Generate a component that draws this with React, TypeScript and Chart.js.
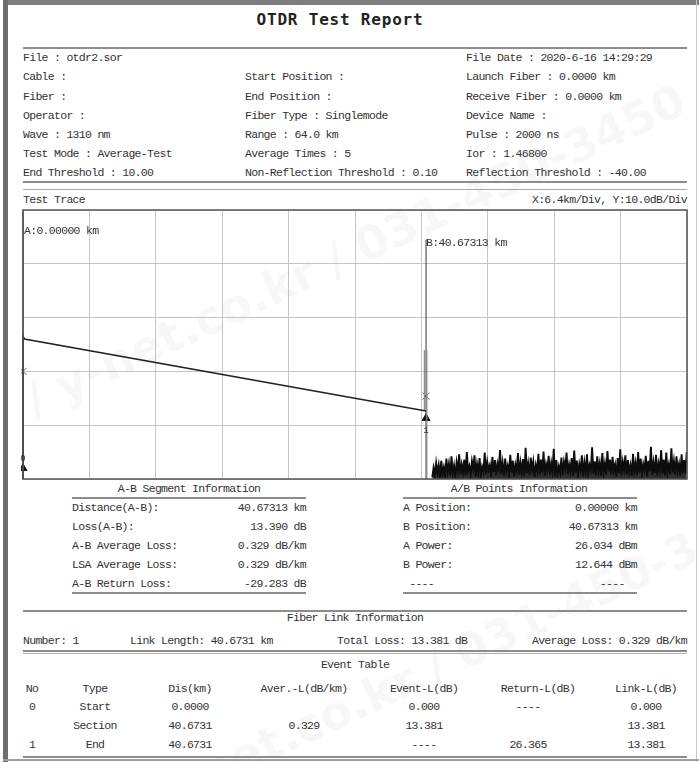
import React, { useEffect, useRef } from "react";
import { Chart, registerables } from "chart.js";
Chart.register(...registerables);

// ---------- report text ----------
const TITLE = "OTDR Test Report";
const HEADER_LEFT = ["File : otdr2.sor", "Cable :", "Fiber :", "Operator :", "Wave : 1310 nm", "Test Mode : Average-Test", "End Threshold : 10.00"];
const HEADER_MID = ["", "Start Position :", "End Position :", "Fiber Type : Singlemode", "Range : 64.0 km", "Average Times : 5", "Non-Reflection Threshold : 0.10"];
const HEADER_RIGHT = ["File Date : 2020-6-16 14:29:29", "Launch Fiber : 0.0000 km", "Receive Fiber : 0.0000 km", "Device Name :", "Pulse : 2000 ns", "Ior : 1.46800", "Reflection Threshold : -40.00"];
const TRACE_TITLE = "Test Trace";
const SCALE_TEXT = "X:6.4km/Div, Y:10.0dB/Div";
const A_LABEL = "A:0.00000 km";
const B_LABEL = "B:40.67313 km";

const SEG_TITLE = "A-B Segment Information";
const SEG_LABELS = ["Distance(A-B):", "Loss(A-B):", "A-B Average Loss:", "LSA Average Loss:", "A-B Return Loss:"];
const SEG_VALUES = ["40.67313 km", "13.390 dB", "0.329 dB/km", "0.329 dB/km", "-29.283 dB"];
const PTS_TITLE = "A/B Points Information";
const PTS_LABELS = ["A Position:", "B Position:", "A Power:", "B Power:", " ----"];
const PTS_VALUES = ["0.00000 km", "40.67313 km", "26.034 dBm", "12.644 dBm", "----  "];

const LINK_TITLE = "Fiber Link Information";
const LINK_ITEMS = ["Number: 1", "Link Length: 40.6731 km", "Total Loss: 13.381 dB", "Average Loss: 0.329 dB/km"];
const EVENT_TITLE = "Event Table";
const EVENT_HEAD = ["No", "Type", "Dis(km)", "Aver.-L(dB/km)", "Event-L(dB)", "Return-L(dB)", "Link-L(dB)"];
const EVENT_NO = ["0", "", "1"];
const EVENT_TYPE = ["Start", "Section", "End"];
const EVENT_DIS = ["0.0000", "40.6731", "40.6731"];
const EVENT_AVER = ["", "0.329", ""];
const EVENT_EVL = ["0.000", "13.381", "----"];
const EVENT_RETL = ["----", "", "26.365"];
const EVENT_LINKL = ["0.000", "13.381", "13.381"];

// ---------- trace data ----------
const X_GRID = [0, 6.7, 13.4, 20.1, 26.8, 33.5, 40.2, 46.9, 53.6, 60.3, 67];
const Y_GRID = [0, 10, 20, 30, 40, 50];
const TRACE_KM = [0, 0, 0.15, 40.67];
const TRACE_DB = [0, 26.5, 26.03, 12.64];
const SPIKE_KM = [40.5, 40.5, 40.75, 40.75];
const SPIKE_DB = [12.7, 23.8, 23.8, 0];
const A_KM = 0;
const B_KM = 40.67;
const CURSOR_TOP_DB = [50, 44.5];
const EVENT_KM = [0, 40.67];
const EVENT_CROSS_DB = [20.0, 15.4];
const EVENT_TRI_DB = [2.0, 11.3];
const EVENT_IDS = ["0", "1"];
const NOISE_START_KM = 41.3;
const NOISE_STEP_KM = 0.129;
const NOISE_DB = [
  0.3, 2.1, 0.8, 3.0, 1.2, 2.6, 0.2, 3.4, 1.0, 2.2,
  0.5, 3.8, 1.4, 2.9, 0.6, 4.2, 1.1, 2.5, 0.4, 3.1,
  1.6, 4.6, 0.9, 2.7, 1.3, 3.6, 0.7, 5.0, 1.5, 2.4,
  0.8, 3.3, 1.9, 4.4, 0.5, 2.8, 1.2, 3.9, 0.6, 2.3,
  1.4, 4.9, 0.9, 3.2, 1.7, 2.6, 0.4, 4.1, 1.3, 3.5,
  0.7, 2.9, 1.8, 5.4, 1.0, 3.0, 0.6, 3.8, 1.5, 2.5,
  0.9, 4.5, 1.2, 3.4, 0.5, 2.7, 1.6, 4.8, 0.8, 3.1,
  1.3, 3.7, 0.6, 5.8, 1.1, 2.9, 0.7, 4.0, 1.8, 3.3,
  0.4, 2.6, 1.5, 4.7, 0.9, 3.6, 1.2, 5.1, 0.6, 2.8,
  1.7, 4.3, 0.8, 3.0, 1.4, 5.6, 0.5, 3.5, 1.0, 2.4,
  1.2, 4.0, 0.7, 3.2, 1.9, 4.9, 0.9, 2.7, 1.4, 3.9,
  0.6, 5.3, 1.1, 3.4, 0.8, 2.8, 1.6, 4.4, 0.5, 3.1,
  1.3, 4.6, 0.9, 2.6, 1.7, 5.9, 1.0, 3.3, 0.7, 4.2,
  1.5, 3.0, 0.6, 4.8, 1.2, 2.9, 0.8, 5.2, 1.4, 3.6,
  0.9, 4.1, 1.6, 2.7, 0.5, 3.9, 1.1, 5.5, 0.7, 3.2,
  1.8, 4.4, 0.8, 3.5, 1.3, 2.6, 0.6, 4.7, 1.5, 3.0,
  0.7, 5.0, 1.2, 3.8, 0.9, 2.8, 1.7, 4.3, 0.5, 3.4,
  1.4, 6.0, 0.8, 3.1, 1.1, 4.5, 0.6, 2.9, 1.6, 5.4,
  1.0, 3.6, 0.7, 4.9, 1.3, 2.7, 0.9, 5.7, 1.2, 3.3,
  0.8, 4.2, 1.5, 2.8, 0.6, 4.6, 1.1, 3.5, 0.9, 5.0,
];

// ---------- styles ----------
const W = 699;
const H = 762;
const TXT = "#333";
const MONO: React.CSSProperties = {
  fontFamily: "'Liberation Mono', 'DejaVu Sans Mono', monospace",
  fontSize: 11.5,
  letterSpacing: "-0.7px",
  color: TXT,
};

type Align = "left" | "center" | "right";
function T({ x, y, s, a = "left", style }: { x: number; y: number; s: string; a?: Align; style?: React.CSSProperties }) {
  const st: React.CSSProperties = {
    position: "absolute",
    top: y - 8,
    height: 16,
    lineHeight: "16px",
    whiteSpace: "pre",
    ...MONO,
    ...style,
  };
  if (a === "left") st.left = x;
  else if (a === "right") st.right = W - x;
  else {
    st.left = x;
    st.transform = "translateX(-50%)";
  }
  return <div style={st}>{s}</div>;
}

function HL({ x1, x2, y, w = 1, c = "#8a8a8a" }: { x1: number; x2: number; y: number; w?: number; c?: string }) {
  return <div style={{ position: "absolute", left: x1, top: y, width: x2 - x1, height: w, background: c }} />;
}

function TraceChart() {
  const ref = useRef<HTMLCanvasElement | null>(null);
  useEffect(() => {
    if (!ref.current) return;
    const pts = (xs: number[], ys: number[]) => xs.map((x, i) => ({ x, y: ys[i] }));
    const noise = NOISE_DB.map((v, i) => ({ x: NOISE_START_KM + i * NOISE_STEP_KM, y: v }));
    const overlay = {
      id: "otdrOverlay",
      afterDatasetsDraw(chart: any) {
        const { ctx, chartArea: ca, scales } = chart;
        ctx.save();
        ctx.strokeStyle = "#555";
        ctx.lineWidth = 1.5;
        ctx.strokeRect(ca.left, ca.top, ca.right - ca.left, ca.bottom - ca.top);
        ctx.fillStyle = "#333";
        ctx.font = "11.5px 'Liberation Mono', monospace";
        ctx.textBaseline = "middle";
        ctx.textAlign = "left";
        const ax = scales.x.getPixelForValue(A_KM);
        const bx = scales.x.getPixelForValue(B_KM);
        const drawSpaced = (s: string, x: number, y: number) => {
          let cx = x;
          for (const ch of s) {
            ctx.fillText(ch, cx, y);
            cx += 6.2;
          }
        };
        drawSpaced(A_LABEL, ax + 1, ca.top + 21);
        drawSpaced(B_LABEL, bx, ca.top + 33);
        ctx.font = "9px 'Liberation Mono', monospace";
        ctx.textAlign = "center";
        EVENT_KM.forEach((k, i) => {
          const px = scales.x.getPixelForValue(k);
          const py = scales.y.getPixelForValue(EVENT_TRI_DB[i]);
          ctx.fillText(EVENT_IDS[i], px, i === 0 ? py - 10 : py + 12);
        });
        ctx.restore();
      },
    };
    const chart = new Chart(ref.current, {
      type: "scatter",
      data: {
        datasets: [
          { data: pts(TRACE_KM, TRACE_DB), showLine: true, borderColor: "#222", borderWidth: 1.6, pointRadius: 0, clip: false },
          { data: pts(SPIKE_KM, SPIKE_DB), showLine: true, borderColor: "#8a8a8a", borderWidth: 1.2, pointRadius: 0 },
          { data: [{ x: A_KM, y: 0 }, { x: A_KM, y: CURSOR_TOP_DB[0] }], showLine: true, borderColor: "#333", borderWidth: 1, pointRadius: 0, clip: false },
          { data: [{ x: B_KM, y: 0 }, { x: B_KM, y: CURSOR_TOP_DB[1] }], showLine: true, borderColor: "#333", borderWidth: 1, pointRadius: 0 },
          { data: noise, showLine: true, borderColor: "#0d0d0d", borderWidth: 1.9, pointRadius: 0, fill: "origin", backgroundColor: "rgba(10,10,10,0.85)" },
          { data: pts(EVENT_KM, EVENT_CROSS_DB), showLine: false, pointStyle: "crossRot", pointRadius: 5, borderColor: "#666", borderWidth: 1, clip: false },
          { data: pts(EVENT_KM, EVENT_TRI_DB), showLine: false, pointStyle: "triangle", pointRadius: 4.5, backgroundColor: "#111", borderColor: "#111", borderWidth: 1, clip: false },
        ],
      },
      options: {
        animation: false,
        responsive: false,
        events: [],
        layout: { padding: 2, autoPadding: false },
        plugins: { legend: { display: false }, tooltip: { enabled: false }, title: { display: false }, filler: { propagate: false } },
        scales: {
          x: {
            type: "linear",
            min: X_GRID[0],
            max: X_GRID[X_GRID.length - 1],
            afterBuildTicks: (s: any) => { s.ticks = X_GRID.map((v) => ({ value: v })); },
            ticks: { display: false },
            grid: { color: "#c4c4c4", lineWidth: 1, drawTicks: false, tickLength: 0 },
            border: { display: false },
          },
          y: {
            type: "linear",
            min: Y_GRID[0],
            max: Y_GRID[Y_GRID.length - 1],
            afterBuildTicks: (s: any) => { s.ticks = Y_GRID.map((v) => ({ value: v })); },
            ticks: { display: false },
            grid: { color: "#c4c4c4", lineWidth: 1, drawTicks: false, tickLength: 0 },
            border: { display: false },
          },
        },
      },
      plugins: [overlay],
    } as any);
    return () => chart.destroy();
  }, []);
  return (
    <canvas ref={ref} width={668} height={273} style={{ position: "absolute", left: 21, top: 208, width: 668, height: 273 }} />
  );
}

const HEADER_Y = [58, 77, 97, 116, 135, 154, 173];
const SEG_Y = [508, 527, 546, 565, 584];
const EV_Y = [707, 726, 745];
const EV_COL_X = [32, 95, 190, 304, 424, 538, 646];

export default function App() {
  return (
    <div style={{ position: "absolute", left: 0, top: 0, width: W, height: H, background: "#fff", overflow: "hidden" }}>
      {/* watermark */}
      <div style={{ position: "absolute", left: 355, top: 250, transform: "translate(-50%,-50%) rotate(-25deg)", fontFamily: "'DejaVu Sans', sans-serif", fontWeight: "bold", fontSize: 46, color: "rgba(0,0,0,0.045)", whiteSpace: "pre" }}>/ y-net.co.kr / 031-450-3450</div>
      <div style={{ position: "absolute", left: 470, top: 650, transform: "translate(-50%,-50%) rotate(-25deg)", fontFamily: "'DejaVu Sans', sans-serif", fontWeight: "bold", fontSize: 46, color: "rgba(0,0,0,0.045)", whiteSpace: "pre" }}>y-net.co.kr / 031-450-3450</div>

      {/* frame */}
      <div style={{ position: "absolute", left: 3, top: 0, width: W - 3, height: 5, background: "#7d7d7d" }} />
      <div style={{ position: "absolute", left: 3, top: 0, width: 5, height: H, background: "#6e6e6e" }} />
      <div style={{ position: "absolute", left: 696, top: 0, width: 1, height: H, background: "#c8c8c8" }} />
      <div style={{ position: "absolute", left: 3, top: 759, width: W - 3, height: 2, background: "#a0a0a0" }} />

      <T x={340} y={20} s={TITLE} a="center" style={{ fontFamily: "'DejaVu Sans Mono', monospace", fontWeight: "bold", fontSize: 16, letterSpacing: "0.8px", color: "#222" }} />
      <HL x1={23} x2={687} y={47} w={2} c="#8c8c8c" />

      {HEADER_Y.map((y, i) => (
        <React.Fragment key={"h" + i}>
          <T x={23} y={y} s={HEADER_LEFT[i]} />
          {HEADER_MID[i] ? <T x={245} y={y} s={HEADER_MID[i]} /> : null}
          <T x={466} y={y} s={HEADER_RIGHT[i]} />
        </React.Fragment>
      ))}
      <HL x1={23} x2={687} y={181} w={2} c="#8c8c8c" />
      <HL x1={23} x2={687} y={189} w={1} c="#a8a8a8" />

      <T x={23} y={200} s={TRACE_TITLE} />
      <T x={687} y={200} s={SCALE_TEXT} a="right" />
      <TraceChart />

      <T x={189} y={489} s={SEG_TITLE} a="center" />
      <HL x1={72} x2={306} y={497} w={2} c="#8c8c8c" />
      {SEG_Y.map((y, i) => (
        <React.Fragment key={"s" + i}>
          <T x={72} y={y} s={SEG_LABELS[i]} />
          <T x={306} y={y} s={SEG_VALUES[i]} a="right" />
        </React.Fragment>
      ))}
      <HL x1={72} x2={306} y={592} w={2} c="#8c8c8c" />

      <T x={519} y={489} s={PTS_TITLE} a="center" />
      <HL x1={403} x2={637} y={497} w={2} c="#8c8c8c" />
      {SEG_Y.map((y, i) => (
        <React.Fragment key={"p" + i}>
          <T x={403} y={y} s={PTS_LABELS[i]} />
          <T x={637} y={y} s={PTS_VALUES[i]} a="right" />
        </React.Fragment>
      ))}
      <HL x1={403} x2={637} y={592} w={2} c="#8c8c8c" />

      <HL x1={23} x2={687} y={610} w={2} c="#8c8c8c" />
      <T x={355} y={618} s={LINK_TITLE} a="center" />
      <T x={23} y={641} s={LINK_ITEMS[0]} />
      <T x={130} y={641} s={LINK_ITEMS[1]} />
      <T x={337} y={641} s={LINK_ITEMS[2]} />
      <T x={687} y={641} s={LINK_ITEMS[3]} a="right" />
      <HL x1={23} x2={687} y={650} w={2} c="#8c8c8c" />
      <HL x1={23} x2={687} y={653} w={1} c="#b0b0b0" />

      <T x={355} y={665} s={EVENT_TITLE} a="center" />
      {EVENT_HEAD.map((h, j) => (
        <T key={"eh" + j} x={EV_COL_X[j]} y={689} s={h} a="center" />
      ))}
      {EV_Y.map((y, i) => (
        <React.Fragment key={"er" + i}>
          <T x={EV_COL_X[0]} y={y} s={EVENT_NO[i]} a="center" />
          <T x={EV_COL_X[1]} y={y} s={EVENT_TYPE[i]} a="center" />
          <T x={EV_COL_X[2]} y={y} s={EVENT_DIS[i]} a="center" />
          {EVENT_AVER[i] ? <T x={EV_COL_X[3]} y={y} s={EVENT_AVER[i]} a="center" /> : null}
          <T x={EV_COL_X[4]} y={y} s={EVENT_EVL[i]} a="center" />
          {EVENT_RETL[i] ? <T x={EV_COL_X[5] - 10} y={y} s={EVENT_RETL[i]} a="center" /> : null}
          <T x={EV_COL_X[6]} y={y} s={EVENT_LINKL[i]} a="center" />
        </React.Fragment>
      ))}
      <HL x1={23} x2={687} y={756} w={2} c="#8c8c8c" />
    </div>
  );
}
